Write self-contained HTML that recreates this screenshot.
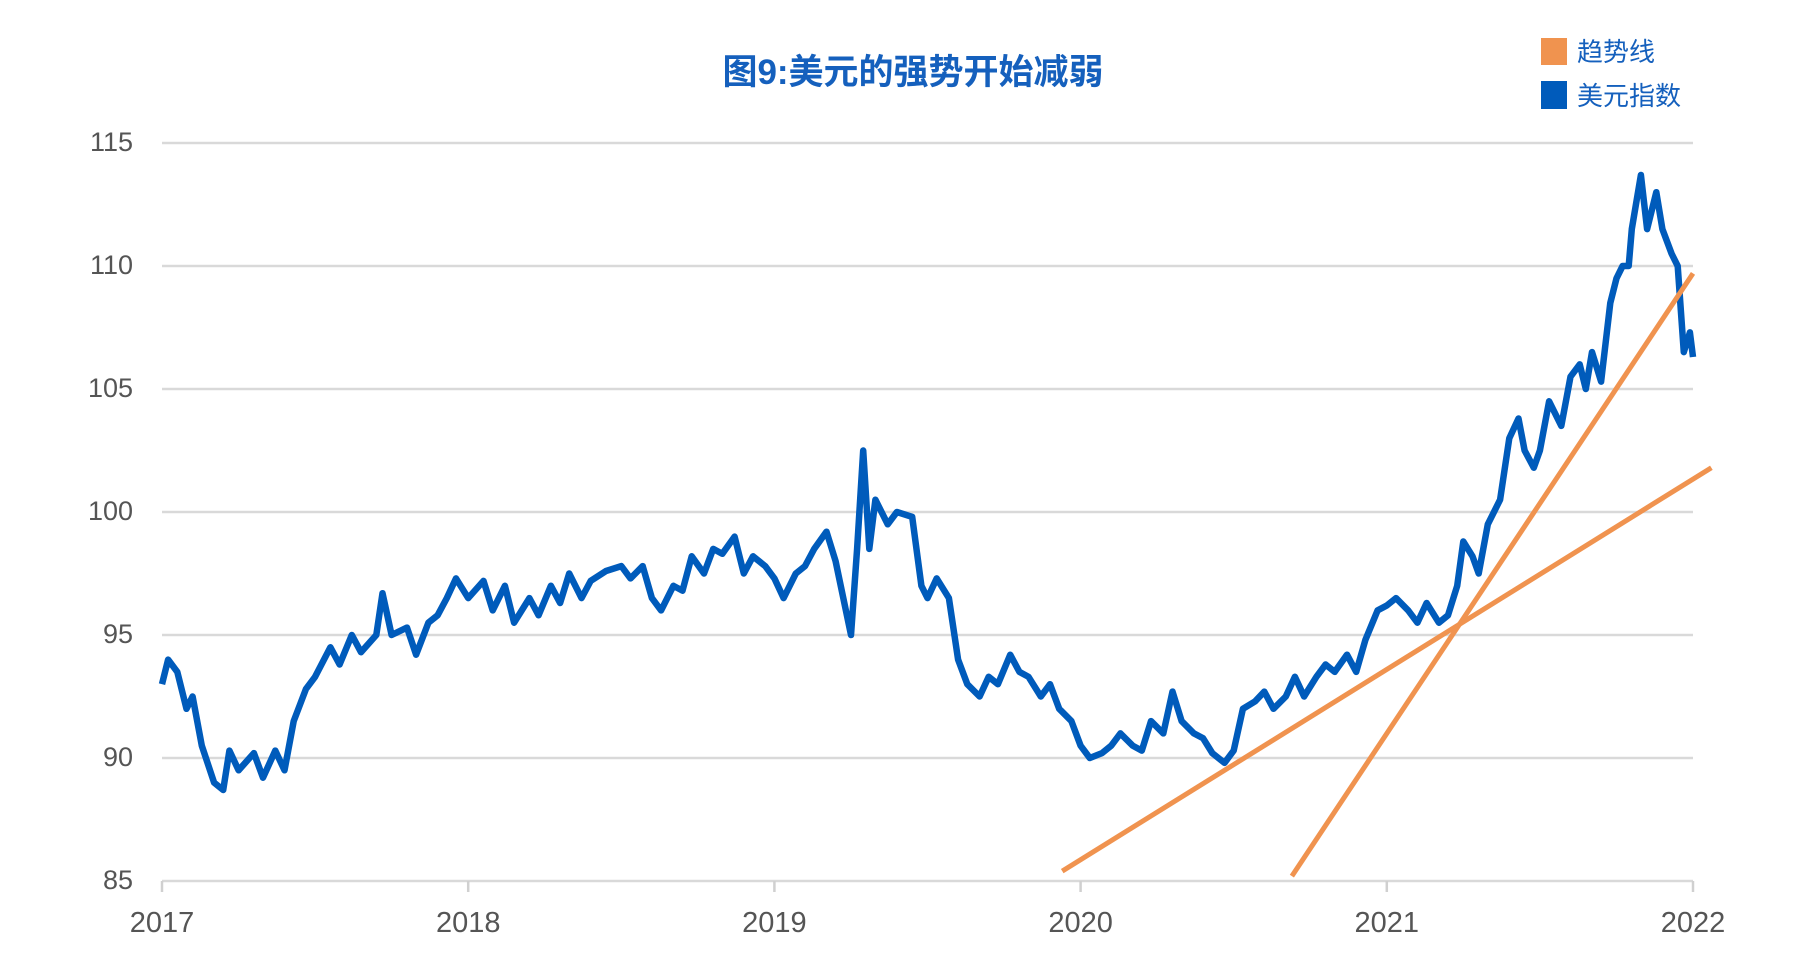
<!DOCTYPE html>
<html><head><meta charset="utf-8">
<style>
html,body{margin:0;padding:0;background:#fff;}
body{width:1820px;height:972px;overflow:hidden;font-family:"Liberation Sans","Noto Sans CJK SC",sans-serif;}
svg text{font-family:"Liberation Sans","Noto Sans CJK SC",sans-serif;}
</style></head>
<body>
<svg id="chart" width="1820" height="972" viewBox="0 0 1820 972" xmlns="http://www.w3.org/2000/svg">
<text x="913" y="84" text-anchor="middle" font-size="35" font-weight="bold" fill="#1560bd">图9:美元的强势开始减弱</text>
<g>
<rect x="1541" y="38" width="26" height="27" fill="#f0934f"/>
<text x="1577" y="61" font-size="26" fill="#1560bd">趋势线</text>
<rect x="1541" y="81" width="26" height="28" fill="#005bbb"/>
<text x="1577" y="105" font-size="26" fill="#1560bd">美元指数</text>
</g>
<g id="grid"></g>
<g id="axes"></g>
<g id="series"></g>
</svg>
<script>
const yTicks=[85,90,95,100,105,110,115];
const xTicks=[2017,2018,2019,2020,2021,2022];
const dates=[2017.0,2017.02,2017.05,2017.08,2017.1,2017.13,2017.17,2017.2,2017.22,2017.25,2017.3,2017.33,2017.37,2017.4,2017.43,2017.47,2017.5,2017.55,2017.58,2017.62,2017.65,2017.7,2017.72,2017.75,2017.8,2017.83,2017.87,2017.9,2017.93,2017.96,2018.0,2018.05,2018.08,2018.12,2018.15,2018.2,2018.23,2018.27,2018.3,2018.33,2018.37,2018.4,2018.45,2018.5,2018.53,2018.57,2018.6,2018.63,2018.67,2018.7,2018.73,2018.77,2018.8,2018.83,2018.87,2018.9,2018.93,2018.97,2019.0,2019.03,2019.07,2019.1,2019.13,2019.17,2019.2,2019.25,2019.27,2019.29,2019.31,2019.33,2019.37,2019.4,2019.45,2019.48,2019.5,2019.53,2019.57,2019.6,2019.63,2019.67,2019.7,2019.73,2019.77,2019.8,2019.83,2019.87,2019.9,2019.93,2019.97,2020.0,2020.03,2020.07,2020.1,2020.13,2020.17,2020.2,2020.23,2020.27,2020.3,2020.33,2020.37,2020.4,2020.43,2020.47,2020.5,2020.53,2020.57,2020.6,2020.63,2020.67,2020.7,2020.73,2020.77,2020.8,2020.83,2020.87,2020.9,2020.93,2020.97,2021.0,2021.03,2021.07,2021.1,2021.13,2021.17,2021.2,2021.23,2021.25,2021.28,2021.3,2021.33,2021.37,2021.4,2021.43,2021.45,2021.48,2021.5,2021.53,2021.57,2021.6,2021.63,2021.65,2021.67,2021.7,2021.73,2021.75,2021.77,2021.79,2021.8,2021.83,2021.85,2021.88,2021.9,2021.93,2021.95,2021.97,2021.99,2022.0];
const usdIndex=[93.0,94.0,93.5,92.0,92.5,90.5,89.0,88.7,90.3,89.5,90.2,89.2,90.3,89.5,91.5,92.8,93.3,94.5,93.8,95.0,94.3,95.0,96.7,95.0,95.3,94.2,95.5,95.8,96.5,97.3,96.5,97.2,96.0,97.0,95.5,96.5,95.8,97.0,96.3,97.5,96.5,97.2,97.6,97.8,97.3,97.8,96.5,96.0,97.0,96.8,98.2,97.5,98.5,98.3,99.0,97.5,98.2,97.8,97.3,96.5,97.5,97.8,98.5,99.2,98.0,95.0,98.5,102.5,98.5,100.5,99.5,100.0,99.8,97.0,96.5,97.3,96.5,94.0,93.0,92.5,93.3,93.0,94.2,93.5,93.3,92.5,93.0,92.0,91.5,90.5,90.0,90.2,90.5,91.0,90.5,90.3,91.5,91.0,92.7,91.5,91.0,90.8,90.2,89.8,90.3,92.0,92.3,92.7,92.0,92.5,93.3,92.5,93.3,93.8,93.5,94.2,93.5,94.8,96.0,96.2,96.5,96.0,95.5,96.3,95.5,95.8,97.0,98.8,98.2,97.5,99.5,100.5,103.0,103.8,102.5,101.8,102.5,104.5,103.5,105.5,106.0,105.0,106.5,105.3,108.5,109.5,110.0,110.0,111.5,113.7,111.5,113.0,111.5,110.5,110.0,106.5,107.3,106.3];
const trend1Dates=[2019.94,2022.06];
const trend1Values=[85.4,101.8];
const trend2Dates=[2020.69,2022.0];
const trend2Values=[85.2,109.7];
const NS="http://www.w3.org/2000/svg";
const X0=162,X1=1693,Y0=881,Y1=143;
function xs(d){return X0+(d-2017)/(2022-2017)*(X1-X0);}
function ys(v){return Y0-(v-85)/(115-85)*(Y0-Y1);}
const grid=document.getElementById('grid'),axes=document.getElementById('axes'),series=document.getElementById('series');
yTicks.forEach(t=>{
  const l=document.createElementNS(NS,'line');
  
  
  l.setAttribute('x1',X0);l.setAttribute('x2',X1);l.setAttribute('y1',ys(t));l.setAttribute('y2',ys(t));
  l.setAttribute('stroke','#d9d9d9');l.setAttribute('stroke-width','2.5');
  grid.appendChild(l);
  const tx=document.createElementNS(NS,'text');
  
  
  tx.setAttribute('x',133);tx.setAttribute('y',ys(t)+8);tx.setAttribute('text-anchor','end');
  tx.setAttribute('font-size','27');tx.setAttribute('fill','#555');
  tx.textContent=t;axes.appendChild(tx);
});
xTicks.forEach(t=>{
  const l=document.createElementNS(NS,'line');
  
  
  l.setAttribute('x1',xs(t));l.setAttribute('x2',xs(t));l.setAttribute('y1',Y0);l.setAttribute('y2',Y0+11);
  l.setAttribute('stroke','#d0d0d0');l.setAttribute('stroke-width','2.5');
  axes.appendChild(l);
  const tx=document.createElementNS(NS,'text');
  
  
  tx.setAttribute('x',xs(t));tx.setAttribute('y',932);tx.setAttribute('text-anchor','middle');
  tx.setAttribute('font-size','29');tx.setAttribute('fill','#555');
  tx.textContent=t;axes.appendChild(tx);
});
const p=document.createElementNS(NS,'path');


p.setAttribute('d',dates.map((d,i)=>(i?'L':'M')+xs(d).toFixed(1)+' '+ys(usdIndex[i]).toFixed(1)).join(' '));
p.setAttribute('fill','none');p.setAttribute('stroke','#005bbb');p.setAttribute('stroke-width','6.5');p.setAttribute('stroke-linejoin','round');
series.appendChild(p);
[[trend1Dates,trend1Values,'trend-line-1'],[trend2Dates,trend2Values,'trend-line-2']].forEach(([ds,vs,n])=>{
  const l=document.createElementNS(NS,'line');
  
  
  l.setAttribute('x1',xs(ds[0]));l.setAttribute('y1',ys(vs[0]));l.setAttribute('x2',xs(ds[1]));l.setAttribute('y2',ys(vs[1]));
  l.setAttribute('stroke','#f0934f');l.setAttribute('stroke-width','5');
  series.appendChild(l);
});
</script>
</body></html>
